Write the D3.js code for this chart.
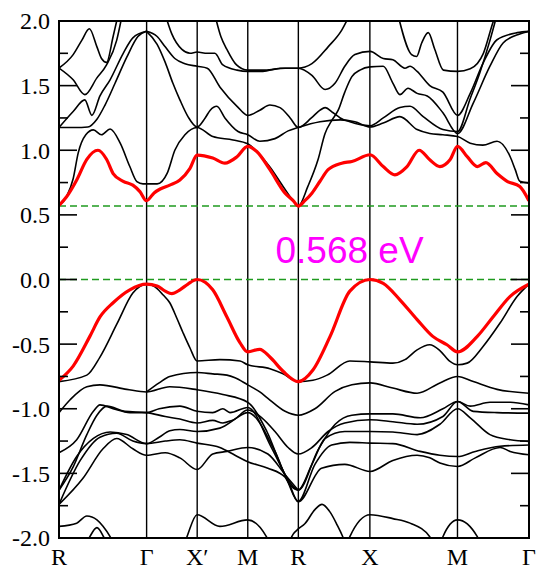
<!DOCTYPE html>
<html>
<head>
<meta charset="utf-8">
<script src="https://cdn.jsdelivr.net/npm/d3@7"></script>
<style>
  body { margin: 0; background: #fff; }
  svg { display: block; }
</style>
</head>
<body>
<div id="chart"></div>
<script>
//high symmetry points along the path (k in path units)
const kLabels = ["R", "Γ", "X′", "M", "R", "X", "M", "Γ"];
const kTicks = [0, 1.732, 2.732, 3.732, 4.732, 6.146, 7.878, 9.292];

//energy axis ticks
const yTicks = [-2.0, -1.5, -1.0, -0.5, 0.0, 0.5, 1.0, 1.5, 2.0];
const yMinor = [-1.75, -1.25, -0.75, -0.25, 0.25, 0.75, 1.25, 1.75];

//band edges and gap
const cbm = 0.568, vbm = 0.0;
const gapLabel = "0.568 eV";

//highlighted bands (red): lowest conduction and highest valence band
const cbRed = [[0,0.573],[0.15,0.64],[0.35,0.77],[0.55,0.93],[0.77,1.0],[0.94,0.93],[1.07,0.82],[1.27,0.76],[1.46,0.73],[1.60,0.68],[1.73,0.61],[1.88,0.67],[2.0,0.70],[2.19,0.73],[2.39,0.77],[2.59,0.86],[2.73,0.963],[3.04,0.94],[3.28,0.90],[3.52,0.95],[3.73,1.03],[3.91,0.99],[4.17,0.85],[4.47,0.668],[4.63,0.61],[4.73,0.568],[4.86,0.61],[5.0,0.668],[5.16,0.76],[5.32,0.85],[5.59,0.90],[5.79,0.913],[6.15,0.965],[6.41,0.874],[6.64,0.81],[6.88,0.874],[7.12,1.0],[7.33,0.926],[7.53,0.874],[7.73,0.926],[7.88,1.03],[8.07,0.95],[8.27,0.874],[8.44,0.905],[8.66,0.82],[8.86,0.76],[9.11,0.72],[9.29,0.61]];
const vbRed = [[0,-0.78],[0.28,-0.67],[0.61,-0.44],[0.81,-0.29],[1.07,-0.18],[1.40,-0.08],[1.73,-0.036],[1.94,-0.05],[2.10,-0.09],[2.23,-0.11],[2.39,-0.08],[2.55,-0.035],[2.73,0.0],[3.04,-0.08],[3.32,-0.29],[3.58,-0.49],[3.73,-0.56],[3.97,-0.54],[4.17,-0.6],[4.43,-0.71],[4.73,-0.79],[5.02,-0.70],[5.36,-0.44],[5.75,-0.09],[6.15,0.0],[6.41,-0.03],[6.74,-0.157],[7.08,-0.31],[7.39,-0.44],[7.67,-0.505],[7.88,-0.56],[8.27,-0.44],[8.58,-0.29],[8.92,-0.13],[9.29,-0.036]];

//other conduction bands
const cb2 = [[0,0.573],[0.15,0.642],[0.28,0.78],[0.38,0.98],[0.53,1.12],[0.68,1.158],[0.84,1.12],[1.01,1.164],[1.21,1.055],[1.40,0.874],[1.54,0.758],[1.66,0.74],[1.73,0.74],[1.94,0.74],[2.14,0.823],[2.29,1.0],[2.49,1.12],[2.73,1.176],[3.04,1.106],[3.44,1.08],[3.73,1.05],[3.91,0.99],[4.17,0.87],[4.43,0.72],[4.63,0.61],[4.73,0.568],[4.92,0.72],[5.12,0.926],[5.26,1.13],[5.40,1.235],[5.52,1.31],[5.65,1.45],[5.79,1.57],[5.95,1.62],[6.15,1.645],[6.41,1.65],[6.60,1.52],[6.74,1.43],[6.90,1.48],[7.08,1.44],[7.28,1.42],[7.59,1.29],[7.88,1.13],[8.19,1.365],[8.52,1.65],[8.78,1.83],[9.11,1.90],[9.29,1.92]];
const cb3 = [[0,1.636],[0.28,1.74],[0.45,1.85],[0.60,1.94],[0.75,1.80],[0.84,1.71],[0.94,1.68],[1.07,1.88],[1.17,2.05]];
const cb4 = [[0,1.636],[0.28,1.545],[0.51,1.43],[0.75,1.56],[0.94,1.66],[1.14,1.85],[1.25,2.05]];
const cb5 = [[0,1.176],[0.28,1.30],[0.51,1.39],[0.65,1.27],[0.81,1.42],[1.01,1.545],[1.27,1.75],[1.46,1.87],[1.73,1.92]];
const cb6 = [[0,1.176],[0.32,1.176],[0.57,1.18],[0.75,1.24],[0.91,1.35],[1.11,1.52],[1.34,1.72],[1.56,1.88],[1.73,1.92]];
const cb7 = [[1.73,1.92],[1.94,1.88],[2.10,1.80],[2.29,1.71],[2.49,1.67],[2.73,1.65],[2.93,1.635],[3.18,1.49],[3.52,1.34],[3.73,1.27],[3.97,1.31],[4.17,1.35],[4.37,1.33],[4.57,1.25],[4.73,1.176],[4.99,1.25],[5.16,1.31],[5.26,1.33],[5.42,1.29],[5.56,1.25],[5.75,1.22],[6.15,1.19],[6.41,1.25],[6.74,1.33],[6.94,1.34],[7.20,1.26],[7.59,1.16],[7.88,1.145],[8.13,1.40],[8.32,1.6],[8.52,1.85],[8.66,2.05]];
const cb8 = [[1.73,1.92],[1.94,1.82],[2.10,1.68],[2.25,1.52],[2.39,1.39],[2.55,1.26],[2.73,1.18],[2.89,1.25],[2.99,1.31],[3.12,1.34],[3.28,1.25],[3.54,1.145],[3.73,1.12],[3.97,1.07],[4.27,1.09],[4.53,1.15],[4.73,1.176],[5.16,1.22],[5.56,1.235],[5.85,1.22],[6.15,1.18],[6.41,1.21],[6.74,1.26],[7.08,1.16],[7.33,1.13],[7.59,1.12],[7.88,1.106],[8.13,1.055],[8.38,1.04],[8.66,1.07],[8.92,0.95],[9.02,0.85],[9.11,0.76],[9.29,0.746]];
const cb9 = [[2.10,2.05],[2.23,1.9],[2.43,1.78],[2.59,1.75],[2.73,1.76],[2.93,1.75],[3.08,1.75],[3.24,1.66],[3.52,1.62],[3.73,1.61],[4.03,1.61],[4.37,1.635],[4.73,1.635],[5.00,1.58],[5.26,1.47],[5.46,1.52],[5.65,1.65],[5.85,1.74],[6.15,1.765],[6.41,1.71],[6.60,1.70],[6.84,1.635],[6.94,1.65],[7.08,1.61],[7.33,1.50],[7.59,1.45],[7.88,1.27],[8.13,1.44],[8.38,1.67],[8.66,1.855],[9.06,1.91],[9.29,1.92]];
const cb10 = [[3.08,2.05],[3.20,1.88],[3.32,1.78],[3.51,1.66],[3.73,1.62],[4.07,1.62],[4.47,1.635],[4.73,1.635],[5.00,1.67],[5.32,1.80],[5.59,1.93],[5.75,2.05]];
const cb11 = [[6.70,2.05],[6.97,1.74],[7.07,1.725],[7.17,1.83],[7.30,1.91],[7.43,1.78],[7.60,1.62],[7.88,1.61],[8.13,1.63],[8.39,1.75],[8.59,2.0],[8.64,2.05]];

//other valence bands
const vb2 = [[0,-0.79],[0.55,-0.74],[0.81,-0.6],[1.15,-0.34],[1.46,-0.105],[1.73,-0.036],[1.94,-0.07],[2.06,-0.12],[2.19,-0.18],[2.33,-0.30],[2.45,-0.41],[2.59,-0.53],[2.73,-0.63],[3.18,-0.62],[3.58,-0.63],[3.73,-0.66],[4.17,-0.69],[4.43,-0.73],[4.73,-0.79],[5.02,-0.78],[5.30,-0.74],[5.75,-0.63],[6.15,-0.637],[6.60,-0.647],[6.84,-0.62],[7.08,-0.544],[7.33,-0.505],[7.53,-0.55],[7.73,-0.634],[7.88,-0.66],[8.07,-0.647],[8.38,-0.52],[8.72,-0.337],[9.06,-0.13],[9.29,-0.036]];
const vb3 = [[1.73,-0.87],[1.98,-0.80],[2.19,-0.75],[2.73,-0.72],[3.04,-0.73],[3.32,-0.74],[3.48,-0.76],[3.73,-0.815],[3.97,-0.87],[4.13,-0.92],[4.47,-1.02],[4.73,-1.05],[5.06,-1.0],[5.46,-0.866],[5.79,-0.815],[6.15,-0.80],[6.60,-0.84],[7.08,-0.88],[7.53,-0.80],[7.88,-0.75],[8.19,-0.79],[8.66,-0.85],[9.29,-0.88]];
const vb4 = [[0,-1.03],[0.22,-0.93],[0.55,-0.83],[0.81,-0.815],[1.34,-0.85],[1.73,-0.87],[2.19,-0.83],[2.73,-0.853],[3.24,-0.89],[3.73,-0.95],[4.11,-1.176],[4.47,-1.51],[4.73,-1.627],[5.00,-1.43],[5.26,-1.23],[5.65,-1.176],[6.15,-1.176],[6.60,-1.18],[7.08,-1.20],[7.53,-1.12],[7.88,-1.0],[8.13,-1.07],[8.52,-1.20],[8.92,-1.24],[9.29,-1.253]];
const vb5 = [[0,-1.34],[0.35,-1.24],[0.68,-1.02],[0.81,-0.97],[1.07,-1.0],[1.40,-1.03],[1.73,-1.03],[1.98,-1.0],[2.39,-0.98],[2.73,-1.02],[3.04,-1.03],[3.24,-1.0],[3.38,-1.03],[3.73,-0.99],[4.20,-1.30],[4.53,-1.56],[4.73,-1.717],[5.06,-1.43],[5.39,-1.28],[5.75,-1.26],[6.15,-1.266],[6.60,-1.27],[7.14,-1.33],[7.53,-1.36],[7.88,-1.37],[8.23,-1.33],[8.72,-1.29],[9.29,-1.28]];
const vb6 = [[0,-1.63],[0.28,-1.45],[0.55,-1.2],[0.75,-1.05],[0.95,-0.98],[1.30,-1.02],[1.73,-1.03],[2.10,-1.06],[2.39,-1.08],[2.73,-1.11],[3.04,-1.09],[3.24,-1.11],[3.42,-1.09],[3.73,-1.03],[4.27,-1.33],[4.57,-1.59],[4.73,-1.63],[5.12,-1.32],[5.46,-1.12],[5.79,-1.05],[6.15,-1.04],[6.60,-1.04],[7.14,-1.07],[7.59,-1.0],[7.88,-0.944],[8.13,-0.98],[8.52,-0.95],[8.92,-0.95],[9.29,-0.97]];
const vb7 = [[0,-1.63],[0.35,-1.37],[0.68,-1.23],[1.01,-1.18],[1.34,-1.2],[1.73,-1.27],[1.98,-1.22],[2.19,-1.17],[2.39,-1.16],[2.73,-1.176],[3.18,-1.15],[3.48,-1.08],[3.73,-1.01],[4.01,-1.07],[4.27,-1.176],[4.53,-1.30],[4.73,-1.35],[5.00,-1.30],[5.32,-1.176],[5.65,-1.11],[6.15,-1.085],[6.60,-1.10],[7.08,-1.12],[7.59,-1.06],[7.88,-0.944],[8.19,-1.02],[8.66,-1.03],[9.29,-1.034]];
const vb8 = [[0,-1.74],[0.42,-1.4],[0.81,-1.22],[1.14,-1.19],[1.46,-1.25],[1.73,-1.27],[2.10,-1.25],[2.39,-1.24],[2.73,-1.266],[3.18,-1.30],[3.48,-1.36],[3.73,-1.41],[4.13,-1.46],[4.47,-1.53],[4.73,-1.72],[5.19,-1.46],[5.65,-1.43],[6.15,-1.485],[6.60,-1.40],[7.08,-1.36],[7.33,-1.38],[7.53,-1.42],[7.88,-1.447],[8.23,-1.38],[8.72,-1.30],[8.92,-1.33],[9.29,-1.356]];
const vb9 = [[0,-1.74],[0.47,-1.54],[0.87,-1.31],[1.14,-1.23],[1.46,-1.31],[1.73,-1.36],[2.10,-1.34],[2.39,-1.38],[2.73,-1.47],[3.04,-1.35],[3.32,-1.33],[3.73,-1.30],[4.13,-1.35],[4.47,-1.51],[4.73,-1.63]];
//deep bands, cut by the bottom of the frame
const vb10 = [[0,-1.91],[0.35,-1.885],[0.55,-1.83],[0.75,-1.86],[0.87,-1.91],[1.01,-1.99],[1.09,-2.05]];
const vb11 = [[0.53,-2.05],[0.61,-1.99],[0.75,-1.92],[0.88,-1.99],[0.95,-2.05]];
const vb12 = [[2.47,-2.05],[2.53,-1.99],[2.73,-1.82],[3.18,-1.91],[3.73,-1.86],[4.10,-1.99],[4.17,-2.05]];
const vb13 = [[4.53,-2.05],[4.63,-1.97],[4.73,-1.93],[4.86,-1.89],[5.06,-1.78],[5.20,-1.74],[5.36,-1.80],[5.50,-1.90],[5.61,-1.99],[5.67,-2.05]];
const vb14 = [[5.69,-2.05],[5.75,-1.99],[6.15,-1.82],[6.60,-1.85],[6.94,-1.885],[7.33,-1.99],[7.39,-2.05]];
const vb15 = [[7.55,-2.05],[7.59,-1.99],[7.88,-1.86],[8.27,-1.99],[8.32,-2.05]];

const blackBands = [cb2, cb3, cb4, cb5, cb6, cb7, cb8, cb9, cb10, cb11,
    vb2, vb3, vb4, vb5, vb6, vb7, vb8, vb9, vb10, vb11, vb12, vb13, vb14, vb15];
const redBands = [cbRed, vbRed];

//set up SVG dimensions/margins
const margin = { top: 21, right: 7, bottom: 33, left: 59 },
    width = 536 - margin.left - margin.right,
    height = 571 - margin.top - margin.bottom;

const svg = d3.select("#chart")
    .append("svg")
    .attr("width", width + margin.left + margin.right)
    .attr("height", height + margin.top + margin.bottom)
    .append("g")
    .attr("transform", `translate(${margin.left},${margin.top})`);

//scales
const x = d3.scaleLinear().domain([0, 9.292]).range([0, width]);
const y = d3.scaleLinear().domain([-2, 2]).range([height, 0]);

//clip the bands to the frame
svg.append("clipPath")
    .attr("id", "clip")
    .append("rect")
    .attr("width", width)
    .attr("height", height);

const plot = svg.append("g").attr("clip-path", "url(#clip)");

//vertical lines at the high symmetry points
plot.selectAll(".kline")
    .data(kTicks.slice(1, -1))
    .enter().append("line")
    .attr("x1", d => x(d))
    .attr("x2", d => x(d))
    .attr("y1", 0)
    .attr("y2", height)
    .attr("stroke", "black")
    .attr("stroke-width", 1.4);

//dashed lines at CBM and VBM
plot.selectAll(".edge")
    .data([cbm, vbm])
    .enter().append("line")
    .attr("x1", 0)
    .attr("x2", width)
    .attr("y1", d => y(d))
    .attr("y2", d => y(d))
    .attr("stroke", "#1f9a1f")
    .attr("stroke-width", 1.5)
    .attr("stroke-dasharray", "7,4");

const line = d3.line()
    .x(d => x(d[0]))
    .y(d => y(d[1]))
    .curve(d3.curveMonotoneX);

plot.selectAll(".band")
    .data(blackBands)
    .enter().append("path")
    .attr("d", line)
    .attr("fill", "none")
    .attr("stroke", "black")
    .attr("stroke-width", 1.6)
    .attr("stroke-linejoin", "round");

plot.selectAll(".red")
    .data(redBands)
    .enter().append("path")
    .attr("d", line)
    .attr("fill", "none")
    .attr("stroke", "#ff0000")
    .attr("stroke-width", 3.2)
    .attr("stroke-linejoin", "round");

//frame
svg.append("rect")
    .attr("width", width)
    .attr("height", height)
    .attr("fill", "none")
    .attr("stroke", "black")
    .attr("stroke-width", 2);

//inward ticks on left and right
const tickData = yTicks.map(v => ({ v: v, len: 18 })).concat(yMinor.map(v => ({ v: v, len: 9 })));
svg.selectAll(".tl")
    .data(tickData)
    .enter().append("line")
    .attr("x1", 0)
    .attr("x2", d => d.len)
    .attr("y1", d => y(d.v))
    .attr("y2", d => y(d.v))
    .attr("stroke", "black")
    .attr("stroke-width", 1.6);
svg.selectAll(".tr")
    .data(tickData)
    .enter().append("line")
    .attr("x1", width)
    .attr("x2", d => width - d.len)
    .attr("y1", d => y(d.v))
    .attr("y2", d => y(d.v))
    .attr("stroke", "black")
    .attr("stroke-width", 1.6);

//y labels
svg.selectAll(".ylab")
    .data(yTicks)
    .enter().append("text")
    .attr("x", -9)
    .attr("y", d => y(d))
    .attr("dy", "0.35em")
    .attr("text-anchor", "end")
    .style("font-family", "'Liberation Serif', 'Times New Roman', serif")
    .style("font-size", "24px")
    .text(d => d.toFixed(1));

//k point labels
svg.selectAll(".xlab")
    .data(kTicks)
    .enter().append("text")
    .attr("x", d => x(d))
    .attr("y", height + 27)
    .attr("text-anchor", "middle")
    .style("font-family", "'Liberation Serif', 'Times New Roman', serif")
    .style("font-size", "24px")
    .text((d, i) => kLabels[i]);

//gap annotation
svg.append("text")
    .attr("x", x(4.28))
    .attr("y", y(0.13))
    .attr("fill", "#ff00ff")
    .style("font-family", "'Liberation Sans', Arial, sans-serif")
    .style("font-size", "37px")
    .text(gapLabel);
</script>
</body>
</html>
